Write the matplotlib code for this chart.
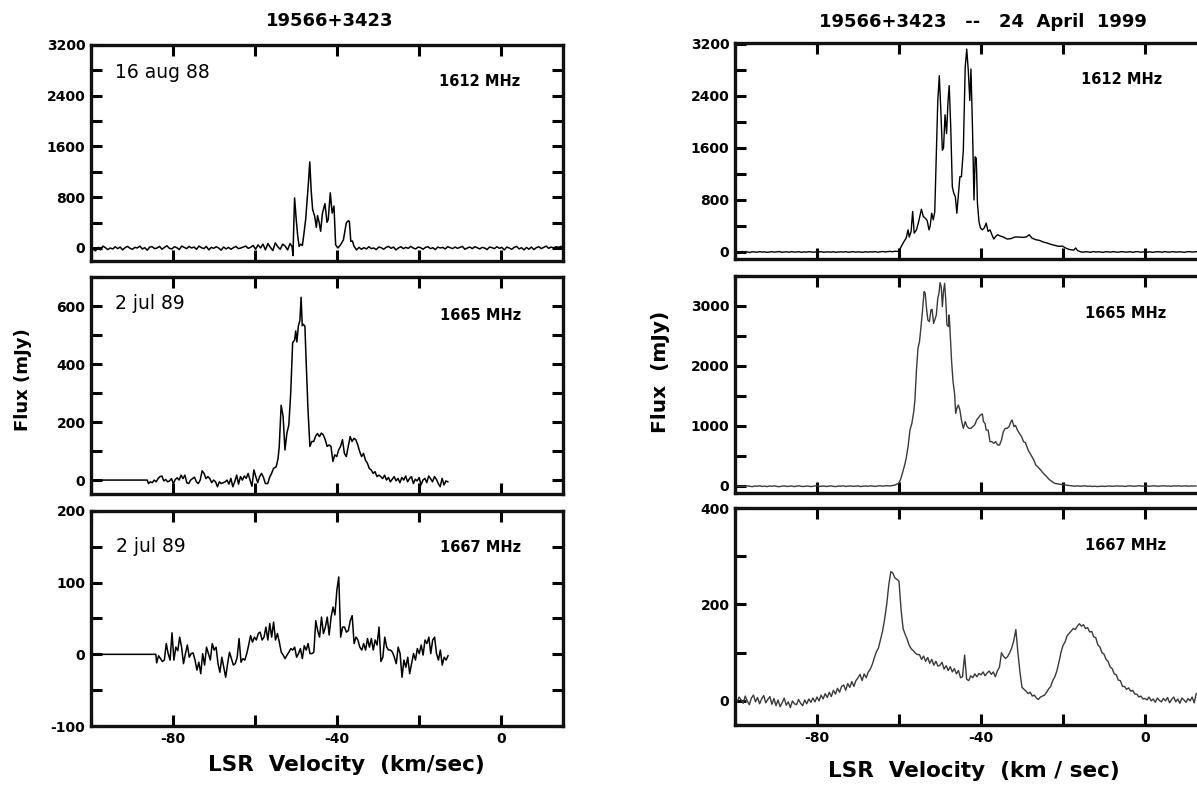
import numpy as np
import matplotlib
matplotlib.use("Agg")
import matplotlib.pyplot as plt
from matplotlib.ticker import MultipleLocator, FuncFormatter

plt.rcParams['font.family'] = ['DejaVu Sans']

# ---------------- DATA (velocity km/s, flux mJy) ----------------
# Left column: 1988/1989 spectra
# 1612 MHz, 16 aug 88
l1612_base1_start, l1612_step = -99.5, 0.6
l1612_base1 = [-20, -45, 10, -30, 30, 5, -25, 0, -15, 20, -10, 15, -30, 5, 25, -5, -20, 10, 0, 30,
               -15, 5, -35, 15, 20, -10, 0, 25, -20, 10, 35, -5, -15, 20, 5, -25, 30, 10, -10, 25,
               0, 15, -20, 30, 5, -10, 25, -30, 10, -5, 20, 0, -35, 15, -15, 10, -20, 5, 25, -10,
               0, 15, 30, -5, 10, 40, -20, 50, 0, 60, -30, 70, 10, -40, 80, 20, -20, 60, 30, -30, 70]
l1612_feat_v = [-51.0, -50.8, -50.4, -50.0, -49.65, -49.3, -48.9, -48.5, -48.1, -47.7, -47.4, -47.0,
                -46.7, -46.35, -46.0, -45.5, -45.1, -44.8, -44.4, -44.05, -43.6, -43.0, -42.5, -42.2,
                -41.7, -41.25, -40.8, -40.4, -39.85, -39.2, -38.5, -37.8, -37.3, -37.05, -36.7, -36.3, -35.9]
l1612_feat_f = [20, -120, 790, 450, 200, 25, 60, 40, 236, 450, 700, 1050,
                1358, 900, 605, 500, 326, 510, 400, 263, 550, 700, 405, 450,
                870, 550, 660, 50, 0, 50, 130, 395, 430, 420, 105, 110, 25]
l1612_base2_start = -35.3
l1612_base2 = [-30, 10, -20, 5, -15, 20, -10, 0, -25, 15, 5, -20, 10, 25, -5, 15, -30, 0, 20, -10,
               10, -5, 25, 0, -15, 15, 5, -20, 10, 20, -10, 5, -25, 15, 0, 10, -15, 20, 5, -10,
               15, -5, 10, 25, -20, 0, 15, -10, 20, 5, -15, 10, 0, -25, 15, 5, -10, 20, -5, 10,
               -30, 15, 0, -20, 10, 25, -15, 5, -30, 10, -20, 15, -25, 5, 20, -10, 10, 30, -5, 15,
               0, 20, 10, 25]

# 1665 MHz, 2 jul 89
l1665_flat_v = [-98.0, -86.3]
l1665_flat_f = [0, 0]
l1665_noise1_start, l1665_step = -86.0, 0.467
l1665_noise1 = [-12, -6, -9, 0, -6, 5, 12, 14, -3, 2, -6, -3, 5, -12, 2, 8, 0, 17, 5, 17,
                -9, -12, 0, 5, 10, -6, -12, 0, 32, 23, 5, 12, 5, -9, 0, -6, -23, -6, -12, -9,
                -6, 0, -14, 6, -23, -6, 17, -14, 12, 0, 14, 6, 23, 0, -21, 35, 12, -9, 12, 23, 9, -12]
l1665_feat_v = [-56.94, -56.47, -56.0, -55.54, -54.88, -54.42, -54.14, -53.67, -53.2, -52.74, -52.27,
                -51.8, -51.34, -50.87, -50.4, -50.12, -49.84, -49.47, -49.1, -48.81, -48.53, -48.25,
                -47.88, -47.6, -47.13, -46.67, -46.2, -45.73, -45.27, -44.8, -44.33, -43.87, -43.4,
                -42.93, -42.46, -42.0, -41.53, -41.06, -40.6, -40.13, -39.66, -39.2, -38.73, -38.26,
                -37.8, -37.33, -36.86, -36.4, -35.93, -35.46, -35.0, -34.53, -34.06, -33.6, -33.13,
                -32.66, -32.19, -31.73, -31.26, -30.79, -30.33, -29.86]
l1665_feat_f = [-12, 10, 23, 40, 46, 75, 115, 258, 220, 104, 162,
                190, 300, 474, 482, 514, 476, 532, 550, 630, 532, 537,
                530, 416, 243, 116, 133, 133, 152, 160, 150, 162, 156,
                139, 116, 121, 116, 64, 87, 81, 104, 116, 139, 92,
                81, 116, 150, 133, 144, 139, 121, 98, 81, 92, 69,
                58, 40, 35, 23, 29, 12, 17]
l1665_noise2_start = -29.4
l1665_noise2 = [12, 5, 17, 0, 9, -6, 3, 12, -3, 6, -9, 9, 0, 14, -6, 5, 12, -12, 3, -3,
                9, -17, 0, 6, -9, 14, 5, -6, 12, 3, -12, -23, 6, -17, -3, -6]

# 1667 MHz, 2 jul 89
l1667_flat_v = [-98.0, -84.2]
l1667_flat_f = [0, 0]
l1667_start, l1667_step = -84.0, 0.467
l1667_flux = [-12, -2, -6, -10, -8, 15, 1, -8, 30, -8, 10, 5, 24, 10, -13, 1, 13, -4, 1, 2,
              -8, -22, -11, -27, 1, -15, 10, 1, -8, 15, 6, 10, -13, -25, -4, -18, -32, -13, 3, -6,
              -15, -13, -4, 22, -11, -6, -8, 1, 13, 26, 17, 24, 20, 29, 31, 20, 24, 38, 20, 43,
              24, 45, 20, 29, 17, 3, -1, -6, -1, 3, 8, 6, 10, -4, 1, 8, -6, 12, 6, 15,
              1, 1, 3, 47, 33, 24, 52, 29, 38, 52, 27, 52, 66, 55, 89, 108, 24, 38, 38, 31,
              33, 47, 54, 15, 24, 20, 10, 6, 15, 6, 22, 10, 22, 6, 20, 13, 38, -10, -4, 24,
              10, 6, 6, 3, -4, -13, 10, 1, -32, -8, -18, -4, -27, -13, 1, -8, 8, 1, 13, -1,
              20, 15, 24, 1, 20, 24, 1, -8, 6, -15, -4, -8, -2]

# Right column: 24 April 1999
# 1612 MHz
r1612_base1_start, r1612_step = -100.0, 0.6
r1612_base1 = [5, -5, 0, 8, -3, 2, -8, 4, 0, -4, 6, -2, 3, -6, 0, 5, -3, 2, 7, -5,
               0, 3, -4, 6, -2, 0, 4, -6, 2, -3, 5, 0, -4, 3, -2, 6, -5, 0, 2, -3,
               4, -6, 0, 3, -2, 5, -4, 0, 6, -3, 2, 0, -5, 4, -2, 3, 0, 6, -4, 2,
               8, 0, 5, 10, 3, 12, 8]
r1612_feat_v = [-60.0, -59.65, -59.0, -58.25, -57.8, -57.5, -57.05, -56.67, -56.3, -55.74, -55.19,
                -54.54, -54.07, -53.6, -53.14, -52.68, -52.4, -52.03, -51.65, -51.28, -50.91, -50.54,
                -50.17, -49.8, -49.42, -49.14, -48.77, -48.4, -48.03, -47.75, -47.38, -47.0, -46.64,
                -46.26, -45.89, -45.52, -45.15, -44.78, -44.31, -43.85, -43.48, -43.1, -42.73, -42.45,
                -42.08, -41.71, -41.43, -41.15, -40.87, -40.5, -40.13, -39.67, -39.2, -38.74, -38.27,
                -37.8, -37.34, -36.88, -36.41, -35.95, -35.48, -34.55, -33.6, -32.7, -31.77, -30.84,
                -29.9, -28.98, -28.23, -27.58, -26.65, -25.73, -24.8, -23.87, -22.94, -22.0, -21.08,
                -20.15, -19.2, -18.3, -17.36, -16.9, -16.43, -15.5]
r1612_feat_f = [15, 60, 138, 214, 340, 230, 316, 622, 290, 340, 470,
                658, 545, 520, 485, 340, 400, 597, 495, 617, 1464, 2330,
                2713, 2178, 1566, 1600, 2111, 1820, 2330, 2560, 1923, 1005, 903,
                850, 597, 877, 1158, 1158, 1566, 2840, 3121, 2790, 2330, 2815,
                1923, 800, 1464, 1440, 750, 470, 367, 340, 370, 444, 316,
                340, 265, 199, 240, 265, 250, 230, 199, 205, 230, 230,
                225, 230, 265, 214, 189, 178, 153, 138, 117, 102, 87,
                90, 56, 36, 30, 61, 20, 0]
r1612_base2_start = -15.0
r1612_base2 = [-3, 5, 0, -5, 8, -2, 3, 0, -6, 4, 2, -3, 6, 0, -4, 3, 5, -2, 0, 4,
               -5, 2, 6, -3, 0, 5, -2, 3, -6, 0, 4, 2, -4, 6, 0, -3, 5, 2, -2, 4,
               0, -5, 3, 6, -1, 2, 5]

# 1665 MHz
r1665_base1_start, r1665_step = -100.0, 0.6
r1665_base1 = [-5, 3, -8, 0, -10, 2, -4, -12, 0, -6, 4, -8, -2, -10, 0, -5, 3, -7, -12, -3,
               2, -8, -5, 0, -10, -4, 3, -6, -9, 0, -3, -11, -2, 4, -7, -5, 0, -9, -3, 2,
               -6, -10, -1, -4, 3, -8, -2, 0, -6, -3, 2, -9, -4, 0, -5, 3, -2, -7, 0, 4,
               -3, 2, 5, 0, 8, 15]
r1665_feat_v = [-60.11, -59.65, -59.18, -58.72, -58.25, -57.79, -57.32, -56.86, -56.4, -56.12, -55.74,
                -55.37, -55.0, -54.63, -54.26, -53.88, -53.6, -53.33, -52.96, -52.58, -52.21, -51.93,
                -51.56, -51.28, -50.9, -50.54, -50.26, -49.98, -49.7, -49.42, -49.14, -48.87, -48.59,
                -48.3, -47.94, -47.75, -47.56, -47.19, -46.82, -46.45, -46.17, -45.89, -45.52, -45.15,
                -44.78, -44.31, -43.85, -43.38, -42.92, -42.45, -41.99, -41.52, -41.06, -40.59, -40.13,
                -39.67, -39.39, -39.0, -38.74, -38.27, -37.8, -37.34, -36.88, -36.41, -35.95, -35.48,
                -35.01, -34.55, -34.09, -33.62, -33.16, -32.7, -32.42, -31.95, -31.58, -31.12, -30.65,
                -30.09, -29.63, -29.16, -28.51, -28.05, -27.58, -27.12, -26.65, -26.19, -25.45, -24.8,
                -24.14, -23.4, -22.66, -22.0, -21.08, -20.15, -18.75]
r1665_feat_f = [44, 100, 211, 322, 461, 656, 933, 1044, 1239, 1433, 1933,
                2295, 2406, 2656, 2933, 3239, 3211, 2989, 2767, 2739, 2933, 2945,
                2711, 2767, 2850, 3128, 3211, 3389, 3322, 2989, 3250, 3378, 3100,
                2684, 2656, 2850, 2600, 2100, 1739, 1545, 1211, 1295, 1350, 1267,
                1100, 961, 1072, 989, 961, 961, 989, 1020, 1100, 1140, 1183,
                1200, 1072, 1040, 933, 933, 739, 739, 711, 739, 683, 683,
                767, 905, 961, 961, 989, 1072, 1100, 989, 1010, 933, 878,
                822, 739, 722, 600, 544, 489, 433, 350, 322, 267, 211,
                167, 111, 72, 44, 33, 22, 10]
r1665_base2_start = -18.2
r1665_base2 = [5, 0, -3, 2, -5, 0, 3, -6, -2, -8, -4, -10, -5, -2, -8, -3, 0, -6, -2, 2,
               -4, 0, -7, -3, 3, -2, -5, 0, 4, -3, -1, 2, -5, 0, 3, -2, -4, 1, 4, -2,
               0, -5, 2, -1, 3, -3, 0, 2, -4, 1, -2, 0]

# 1667 MHz
r1667_start, r1667_step = -100.0, 0.5
r1667_flux = [5, -3, 8, 2, -5, 10, 0, -8, 6, 12,
              -2, 7, -6, 4, 11, -4, 3, 9, -7, 5,
              -10, 2, -12, -4, 6, -9, -2, -14, 0, -6,
              -8, 3, -5, -10, 2, -6, 4, -3, 6, -2,
              8, 0, 12, 4, 15, 7, 18, 9, 22, 14,
              26, 18, 30, 33, 22, 36, 28, 40, 30, 42,
              48, 55, 42, 56, 48, 60, 66, 76, 90, 102,
              110, 128, 145, 170, 200, 240, 268, 265, 255, 252,
              248, 190, 150, 138, 128, 115, 108, 104, 99, 96,
              96, 86, 93, 82, 90, 78, 86, 74, 82, 72,
              74, 80, 66, 73, 63, 71, 60, 67, 56, 63,
              48, 50, 95, 45, 42, 52, 48, 56, 50, 57,
              54, 60, 52, 58, 62, 55, 60, 50, 62, 70,
              100, 92, 88, 92, 100, 110, 125, 148, 100, 60,
              28, 24, 20, 15, 18, 10, 12, 6, 3, 8,
              10, 12, 18, 25, 30, 42, 50, 62, 80, 100,
              115, 122, 135, 140, 145, 150, 148, 155, 160, 155,
              158, 150, 152, 143, 144, 133, 131, 116, 112, 100,
              97, 86, 82, 70, 67, 56, 54, 43, 42, 30,
              30, 24, 27, 20, 22, 14, 14, 8, 10, 4,
              5, 2, 8, 0, 4, -3, 6, 1, -2, 5,
              0, 7, -4, 3, 8, -2, 4, -5, 6, 2,
              -3, 5, 0, 8, -4, 15]

# ---------------- helpers ----------------
def channels(start, step, values):
    return start + step * np.arange(len(values))

def join(*parts):
    v = np.concatenate([np.asarray(p[0], float) for p in parts])
    f = np.concatenate([np.asarray(p[1], float) for p in parts])
    return v, f

L1612 = join((channels(l1612_base1_start, l1612_step, l1612_base1), l1612_base1),
             (l1612_feat_v, l1612_feat_f),
             (channels(l1612_base2_start, l1612_step, l1612_base2), l1612_base2))
L1665 = join((l1665_flat_v, l1665_flat_f),
             (channels(l1665_noise1_start, l1665_step, l1665_noise1), l1665_noise1),
             (l1665_feat_v, l1665_feat_f),
             (channels(l1665_noise2_start, l1665_step, l1665_noise2), l1665_noise2))
L1667 = join((l1667_flat_v, l1667_flat_f),
             (channels(l1667_start, l1667_step, l1667_flux), l1667_flux))
R1612 = join((channels(r1612_base1_start, r1612_step, r1612_base1), r1612_base1),
             (r1612_feat_v, r1612_feat_f),
             (channels(r1612_base2_start, r1612_step, r1612_base2), r1612_base2))
R1665 = join((channels(r1665_base1_start, r1665_step, r1665_base1), r1665_base1),
             (r1665_feat_v, r1665_feat_f),
             (channels(r1665_base2_start, r1665_step, r1665_base2), r1665_base2))
R1667 = join((channels(r1667_start, r1667_step, r1667_flux), r1667_flux),)

# ---------------- figure ----------------
W, H = 1197, 789
fig = plt.figure(figsize=(W / 100, H / 100), dpi=100)

def px_axes(x0, y0, x1, y1):
    return fig.add_axes([x0 / W, 1 - y1 / H, (x1 - x0) / W, (y1 - y0) / H])

def ftext(x, y, s, **kw):
    fig.text(x / W, 1 - y / H, s, **kw)

TICK_FS = 10

def style(ax, ylim, ystep, ylab_step, xlabels, right=True):
    ax.set_xlim(-100, 15)
    ax.set_ylim(*ylim)
    ax.xaxis.set_major_locator(MultipleLocator(20))
    ax.yaxis.set_major_locator(MultipleLocator(ystep))
    def xf(v, p):
        iv = int(round(v))
        return str(iv) if (xlabels and iv in (-80, -40, 0)) else ""
    def yf(v, p):
        iv = int(round(v))
        return str(iv) if iv % ylab_step == 0 else ""
    ax.xaxis.set_major_formatter(FuncFormatter(xf))
    ax.yaxis.set_major_formatter(FuncFormatter(yf))
    ax.tick_params(direction='in', length=8, width=2.2, top=True, right=right,
                   labelsize=TICK_FS, pad=4)
    for lab in ax.get_xticklabels() + ax.get_yticklabels():
        lab.set_fontweight('bold')
    for s in ax.spines.values():
        s.set_linewidth(2.4)
        s.set_color('#111111')

# left column
lx0, lx1 = 91, 563
axL1 = px_axes(lx0, 45, lx1, 261)
axL2 = px_axes(lx0, 277, lx1, 494)
axL3 = px_axes(lx0, 511, lx1, 726)
# right column (right edge beyond the figure, as in the reference)
rx0, rx1 = 735, 735 + 115 * 4.1
axR1 = px_axes(rx0, 43, rx1, 259)
axR2 = px_axes(rx0, 276, rx1, 493)
axR3 = px_axes(rx0, 508, rx1, 725)

axL1.plot(*L1612, color='black', lw=1.1)
axL2.plot(*L1665, color='black', lw=1.1)
axL3.plot(*L1667, color='black', lw=1.1)
axR1.plot(*R1612, color='black', lw=1.0)
axR2.plot(*R1665, color='#3a3a3a', lw=1.0)
axR3.plot(*R1667, color='#3a3a3a', lw=1.0)

style(axL1, (-205, 3200), 400, 800, False)
style(axL2, (-48, 700), 100, 200, False)
style(axL3, (-100, 200), 50, 100, True)
style(axR1, (-108, 3215), 400, 800, False, right=False)
style(axR2, (-117, 3500), 500, 1000, False, right=False)
style(axR3, (-50, 400), 100, 200, True, right=False)

for ax in (axL1, axL2, axL3, axR1, axR2, axR3):
    for lab in ax.get_xticklabels() + ax.get_yticklabels():
        lab.set_fontweight('bold')

# titles and axis labels
ftext(330, 21, "19566+3423", ha='center', va='center', fontsize=13, fontweight='bold')
ftext(983, 22, "19566+3423   --   24  April  1999", ha='center', va='center',
      fontsize=13, fontweight='bold')
ftext(23, 380, "Flux (mJy)", ha='center', va='center', rotation=90, fontsize=13, fontweight='bold')
ftext(660, 372, "Flux  (mJy)", ha='center', va='center', rotation=90, fontsize=14.5, fontweight='bold')
ftext(346, 765, "LSR  Velocity  (km/sec)", ha='center', va='center', fontsize=15.5, fontweight='bold')
ftext(974, 771, "LSR  Velocity  (km / sec)", ha='center', va='center', fontsize=15.5, fontweight='bold')

# panel annotations
ftext(115, 73, "16 aug 88", ha='left', va='center', fontsize=13.5)
ftext(115, 303, "2 jul 89", ha='left', va='center', fontsize=13.5)
ftext(116, 547, "2 jul 89", ha='left', va='center', fontsize=13.5)
ftext(480, 82, "1612 MHz", ha='center', va='center', fontsize=10.5, fontweight='bold')
ftext(481, 316, "1665 MHz", ha='center', va='center', fontsize=10.5, fontweight='bold')
ftext(481, 548, "1667 MHz", ha='center', va='center', fontsize=10.5, fontweight='bold')
ftext(1122, 80, "1612 MHz", ha='center', va='center', fontsize=10.5, fontweight='bold')
ftext(1126, 314, "1665 MHz", ha='center', va='center', fontsize=10.5, fontweight='bold')
ftext(1126, 546, "1667 MHz", ha='center', va='center', fontsize=10.5, fontweight='bold')

fig.savefig("out.png", dpi=100)
